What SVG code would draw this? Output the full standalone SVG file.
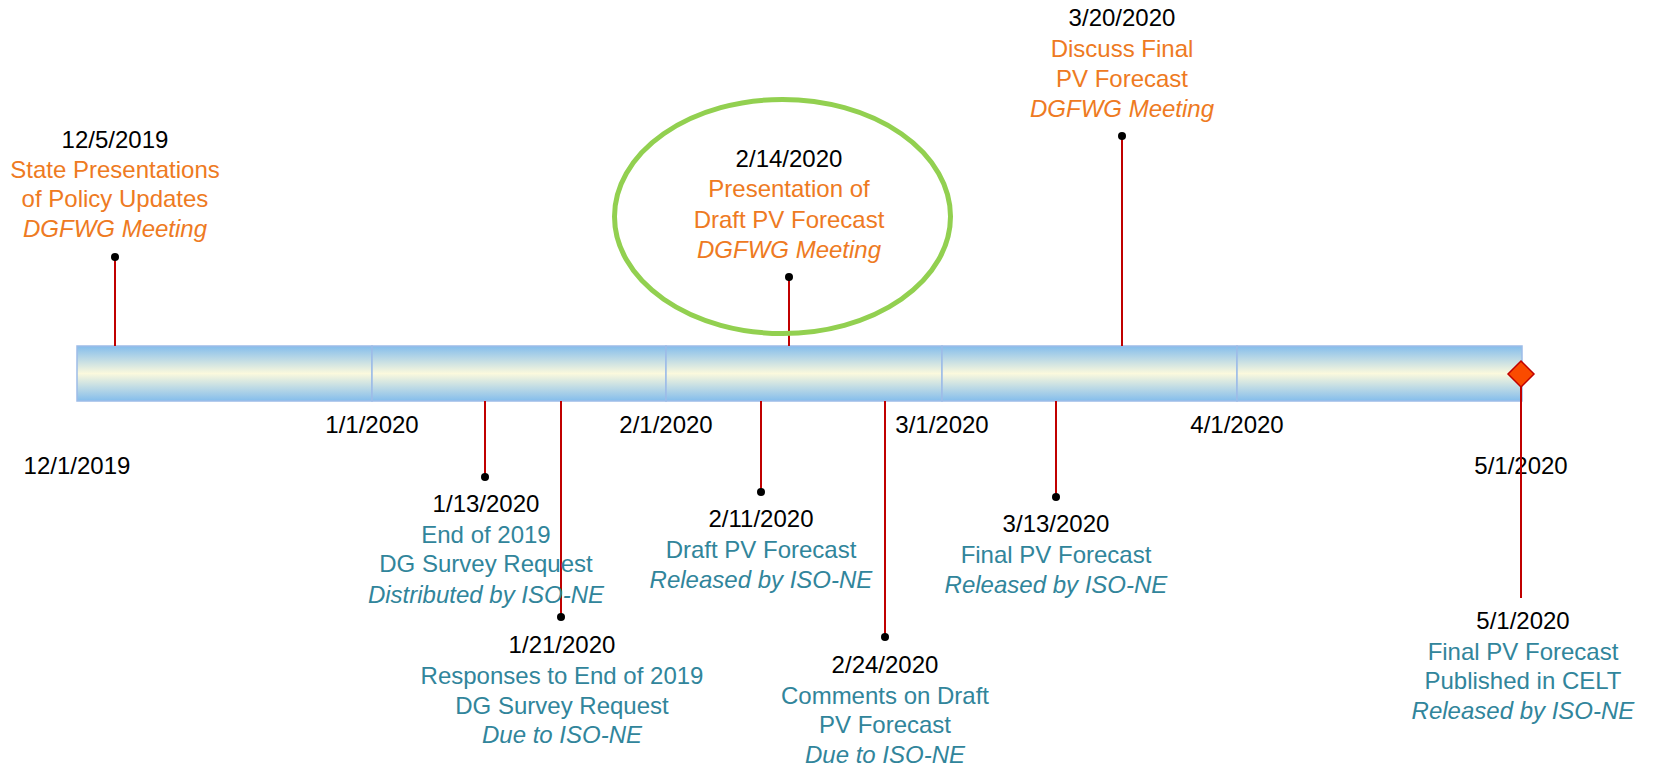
<svg xmlns="http://www.w3.org/2000/svg" width="1653" height="767" viewBox="0 0 1653 767">
<defs>
<linearGradient id="barGrad" x1="0" y1="0" x2="0" y2="1">
<stop offset="0" stop-color="#84BDEC"/>
<stop offset="0.5" stop-color="#FBF9DD"/>
<stop offset="1" stop-color="#84BDEC"/>
</linearGradient>
</defs>
<style>
text{font-family:"Liberation Sans",Arial,sans-serif;font-size:24px;text-anchor:middle}
.d{fill:#000}
.o{fill:#EE7A22}
.t{fill:#31859B}
.i{font-style:italic}
.stem{stroke:#C00000;stroke-width:2;fill:none}
.dot{fill:#000}
.seg{fill:url(#barGrad);stroke:#9DBCE8;stroke-width:1.5}
</style>
<rect width="1653" height="767" fill="#fff"/>
<g id="timeline-bar">
<rect class="seg" x="77" y="346" width="295" height="55"/>
<rect class="seg" x="372" y="346" width="294" height="55"/>
<rect class="seg" x="666" y="346" width="276" height="55"/>
<rect class="seg" x="942" y="346" width="295" height="55"/>
<rect class="seg" x="1237" y="346" width="285" height="55"/>
</g>
<g id="axis-labels">
<text class="d" x="77" y="474">12/1/2019</text>
<text class="d" x="372" y="433">1/1/2020</text>
<text class="d" x="666" y="433">2/1/2020</text>
<text class="d" x="942" y="433">3/1/2020</text>
<text class="d" x="1237" y="433">4/1/2020</text>
<text class="d" x="1521" y="474">5/1/2020</text>
</g>
<g id="connectors">
<line class="stem" x1="115" y1="257" x2="115" y2="346"/>
<line class="stem" x1="789" y1="277" x2="789" y2="346"/>
<line class="stem" x1="1122" y1="136" x2="1122" y2="346"/>
<line class="stem" x1="485" y1="401" x2="485" y2="477"/>
<line class="stem" x1="561" y1="401" x2="561" y2="617"/>
<line class="stem" x1="761" y1="401" x2="761" y2="492"/>
<line class="stem" x1="885" y1="401" x2="885" y2="637"/>
<line class="stem" x1="1056" y1="401" x2="1056" y2="497"/>
<line class="stem" x1="1521" y1="374" x2="1521" y2="598"/>
<circle class="dot" cx="115" cy="257" r="4"/>
<circle class="dot" cx="789" cy="277" r="4"/>
<circle class="dot" cx="1122" cy="136" r="4"/>
<circle class="dot" cx="485" cy="477" r="4"/>
<circle class="dot" cx="561" cy="617" r="4"/>
<circle class="dot" cx="761" cy="492" r="4"/>
<circle class="dot" cx="885" cy="637" r="4"/>
<circle class="dot" cx="1056" cy="497" r="4"/>
</g>
<g id="milestone-end">
<polygon points="1521,361 1534,374 1521,387 1508,374" fill="#FA4B00" stroke="#C00000" stroke-width="1.5"/>
</g>
<g id="ev-20191205">
<text class="d" x="115" y="148">12/5/2019</text>
<text class="o" x="115" y="178">State Presentations</text>
<text class="o" x="115" y="207">of Policy Updates</text>
<text class="o i" x="115" y="237">DGFWG Meeting</text>
</g>
<g id="ev-20200214">
<ellipse cx="782.5" cy="216.5" rx="168" ry="117" fill="none" stroke="#92D050" stroke-width="5"/>
<text class="d" x="789" y="167">2/14/2020</text>
<text class="o" x="789" y="197">Presentation of</text>
<text class="o" x="789" y="228">Draft PV Forecast</text>
<text class="o i" x="789" y="258">DGFWG Meeting</text>
</g>
<g id="ev-20200320">
<text class="d" x="1122" y="26">3/20/2020</text>
<text class="o" x="1122" y="57">Discuss Final</text>
<text class="o" x="1122" y="87">PV Forecast</text>
<text class="o i" x="1122" y="117">DGFWG Meeting</text>
</g>
<g id="ev-20200113">
<text class="d" x="486" y="512">1/13/2020</text>
<text class="t" x="486" y="543">End of 2019</text>
<text class="t" x="486" y="572">DG Survey Request</text>
<text class="t i" x="486" y="603">Distributed by ISO-NE</text>
</g>
<g id="ev-20200121">
<text class="d" x="562" y="653">1/21/2020</text>
<text class="t" x="562" y="684">Responses to End of 2019</text>
<text class="t" x="562" y="714">DG Survey Request</text>
<text class="t i" x="562" y="743">Due to ISO-NE</text>
</g>
<g id="ev-20200211">
<text class="d" x="761" y="527">2/11/2020</text>
<text class="t" x="761" y="558">Draft PV Forecast</text>
<text class="t i" x="761" y="588">Released by ISO-NE</text>
</g>
<g id="ev-20200224">
<text class="d" x="885" y="673">2/24/2020</text>
<text class="t" x="885" y="704">Comments on Draft</text>
<text class="t" x="885" y="733">PV Forecast</text>
<text class="t i" x="885" y="763">Due to ISO-NE</text>
</g>
<g id="ev-20200313">
<text class="d" x="1056" y="532">3/13/2020</text>
<text class="t" x="1056" y="563">Final PV Forecast</text>
<text class="t i" x="1056" y="593">Released by ISO-NE</text>
</g>
<g id="ev-20200501">
<text class="d" x="1523" y="629">5/1/2020</text>
<text class="t" x="1523" y="660">Final PV Forecast</text>
<text class="t" x="1523" y="689">Published in CELT</text>
<text class="t i" x="1523" y="719">Released by ISO-NE</text>
</g>
</svg>
